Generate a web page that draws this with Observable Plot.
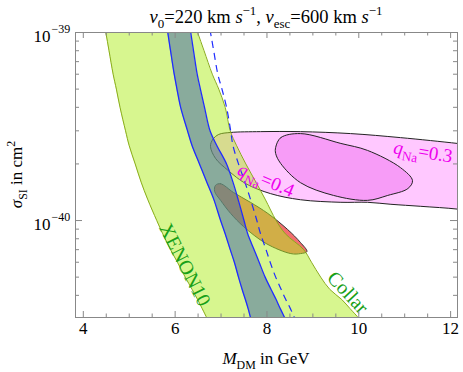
<!DOCTYPE html>
<html>
<head>
<meta charset="utf-8">
<script src="https://cdn.jsdelivr.net/npm/d3@7"></script>
<script src="https://cdn.jsdelivr.net/npm/@observablehq/plot@0.6"></script>
<style>
  body { margin: 0; background: #fff; }
  #chart svg { font-family: "Liberation Serif", "Times New Roman", serif; }
</style>
</head>
<body>
<div id="chart"></div>
<script>
// ---- data ----
// cross-section levels (cm^2) at which the band edges are sampled
const sigmaLevels = [1.2e-39, 1e-39, 8e-40, 6e-40, 5e-40, 4e-40, 3e-40, 2.5e-40, 2e-40, 1.6e-40, 1.3e-40,
  1e-40, 8.5e-41, 7e-41, 6e-41, 5e-41, 4.3e-41, 3.8e-41, 3.4e-41, 3e-41, 2.8e-41];
// XENON10 left edge and Collar right edge (GeV)
const xenonLeftX = [4.42, 4.49, 4.56, 4.65, 4.72, 4.80, 4.92, 5.00, 5.13, 5.26, 5.40,
  5.60, 5.73, 5.90, 6.05, 6.22, 6.37, 6.49, 6.59, 6.70, 6.76];
const collarRightX = [6.38, 6.49, 6.63, 6.81, 6.95, 7.09, 7.20, 7.34, 7.54, 7.76, 7.96,
  8.20, 8.40, 8.80, 8.97, 9.17, 9.37, 9.63, 9.81, 10.01, 10.09];
// blue band (solid lines)
const bandLeftX = [5.80, 5.84, 5.90, 5.98, 6.04, 6.12, 6.27, 6.37, 6.53, 6.69, 6.84,
  6.99, 7.09, 7.20, 7.29, 7.38, 7.46, 7.53, 7.59, 7.65, 7.69];
const bandRightX = [6.29, 6.34, 6.40, 6.48, 6.55, 6.64, 6.76, 6.91, 7.12, 7.26, 7.37,
  7.50, 7.58, 7.72, 7.83, 7.96, 8.09, 8.20, 8.29, 8.40, 8.46];
// dashed blue line
const dashedX = [6.71, 6.77, 6.84, 6.93, 7.02, 7.12, 7.21, 7.26, 7.38, 7.52, 7.64,
  7.78, 7.86, 7.98, 8.07, 8.19, 8.31, 8.41, 8.51, 8.61, 8.67];

// light pink region (outer contours of qNa = 0.4 and 0.3)
const pinkOuterX = [6.77, 6.82, 6.95, 7.21, 7.86, 8.73, 9.82, 10.91, 12.15, 12.66, 12.98, 12.66,
  12.15, 11.35, 10.70, 10.19, 9.61, 8.73, 8.08, 7.54, 7.15, 6.88];
const pinkOuterY = [2.48e-40, 2.70e-40, 2.87e-40, 2.94e-40, 2.97e-40, 2.97e-40, 2.90e-40, 2.76e-40, 2.57e-40, 2.48e-40, 1.73e-40, 1.10e-40,
  1.15e-40, 1.19e-40, 1.22e-40, 1.25e-40, 1.25e-40, 1.29e-40, 1.39e-40, 1.57e-40, 1.85e-40, 2.14e-40];
// magenta inner contour (qNa = 0.3)
const pinkInnerX = [8.19, 8.30, 8.73, 9.61, 10.19, 10.91, 11.17, 11.07, 10.63, 10.19, 9.45, 8.73, 8.30, 8.19];
const pinkInnerY = [2.45e-40, 2.76e-40, 2.90e-40, 2.57e-40, 2.36e-40, 1.91e-40, 1.63e-40, 1.48e-40, 1.36e-40, 1.28e-40, 1.36e-40, 1.59e-40, 2.01e-40, 2.27e-40];
// red inner contour (qNa = 0.4)
const redX = [6.88, 6.99, 7.27, 7.64, 8.02, 8.45, 8.73, 8.87, 8.73, 8.52, 7.98, 7.49, 7.21, 6.99, 6.86];
const redY = [1.54e-40, 1.57e-40, 1.41e-40, 1.25e-40, 1.09e-40, 8.96e-41, 7.64e-41, 6.84e-41, 6.67e-41, 6.67e-41, 7.55e-41, 9.29e-41, 1.09e-40, 1.28e-40, 1.43e-40];

// labels
const greenLabelText = ["XENON10", "Collar"];
const greenLabelX = [6.21, 9.76];
const greenLabelY = [5.83e-41, 4.14e-41];
const greenLabelAngle = [63, 47];
const qLabelValue = ["0.4", "0.3"];
const qLabelX = [7.99, 11.41];
const qLabelY = [1.63e-40, 2.30e-40];
const qLabelAngle = [23, 9];

// ticks
const xMajorTicks = [4, 6, 8, 10, 12];
const xMinorTicks = [4.5, 5, 5.5, 6.5, 7, 7.5, 8.5, 9, 9.5, 10.5, 11, 11.5];
const yMajorTicks = [1e-40, 1e-39];
const yTickExponents = ["\u221240", "\u221239"];
const yMinorTicks = [4e-41, 5e-41, 6e-41, 7e-41, 8e-41, 9e-41, 2e-40, 3e-40, 4e-40, 5e-40, 6e-40, 7e-40, 8e-40, 9e-40];

// ---- build tables ----
const bands = sigmaLevels.map((s, i) => ({s, xl: xenonLeftX[i], xr: collarRightX[i], bl: bandLeftX[i], br: bandRightX[i], dx: dashedX[i]}));
const pinkOuter = pinkOuterX.map((x, i) => ({x, y: pinkOuterY[i]}));
const pinkInner = pinkInnerX.map((x, i) => ({x, y: pinkInnerY[i]}));
const redEll = redX.map((x, i) => ({x, y: redY[i]}));
const greenLabels = greenLabelText.map((t, i) => ({t, x: greenLabelX[i], y: greenLabelY[i], a: greenLabelAngle[i]}));
const yTicks = yMajorTicks.map((v, i) => ({v, e: yTickExponents[i]}));

const W = 463, H = 372, mL = 75, mR = 6, mT = 32, mB = 55;
const innerW = W - mL - mR, innerH = H - mT - mB;
const tickCol = "#888";
const blue = "#1f2cff";
const serif = '"Liberation Serif", "Times New Roman", serif';

const plot = Plot.plot({
  width: W, height: H,
  marginLeft: mL, marginRight: mR, marginTop: mT, marginBottom: mB,
  x: {domain: [3.83, 12.15], axis: null},
  y: {type: "log", domain: [3.05e-41, 1e-39], axis: null},
  style: {fontFamily: serif, fontSize: "17px", background: "white", color: "black"},
  marks: [
    Plot.line(pinkOuter, {x: "x", y: "y", curve: "catmull-rom-closed", fill: "#ffc8ff", stroke: "#222", strokeWidth: 1, clip: true}),
    Plot.line(pinkInner, {x: "x", y: "y", curve: "catmull-rom-closed", fill: "#f79cf7", stroke: "#222", strokeWidth: 1, clip: true}),
    Plot.line(redEll, {x: "x", y: "y", curve: "catmull-rom-closed", fill: "#f26e6e", stroke: "#333", strokeWidth: 1, clip: true}),
    Plot.areaX(bands, {y: "s", x1: "xl", x2: "xr", fill: "#b0ee20", fillOpacity: 0.5, curve: "catmull-rom", clip: true}),
    Plot.lineX(bands, {x: "xl", y: "s", stroke: "#8aac1c", strokeWidth: 1, curve: "catmull-rom", clip: true}),
    Plot.lineX(bands, {x: "xr", y: "s", stroke: "#8aac1c", strokeWidth: 1, curve: "catmull-rom", clip: true}),
    Plot.areaX(bands, {y: "s", x1: "bl", x2: "br", fill: "#3c60aa", fillOpacity: 0.5, curve: "catmull-rom", clip: true}),
    Plot.lineX(bands, {x: "bl", y: "s", stroke: blue, strokeWidth: 1.3, curve: "catmull-rom", clip: true}),
    Plot.lineX(bands, {x: "br", y: "s", stroke: blue, strokeWidth: 1.3, curve: "catmull-rom", clip: true}),
    Plot.lineX(bands, {x: "dx", y: "s", stroke: blue, strokeWidth: 1.2, strokeDasharray: "7,5", strokeLinecap: "butt", curve: "catmull-rom", clip: true}),
    Plot.text(greenLabels, {x: "x", y: "y", text: "t", rotate: "a", fill: "#18a018", fontSize: 20, fontFamily: serif}),
    Plot.frame({stroke: tickCol}),
    // inward ticks on all four sides
    Plot.ruleX(xMajorTicks, {x: d => d, insetTop: innerH - 6, stroke: tickCol}),
    Plot.ruleX(xMajorTicks, {x: d => d, insetBottom: innerH - 6, stroke: tickCol}),
    Plot.ruleX(xMinorTicks, {x: d => d, insetTop: innerH - 3.5, stroke: tickCol}),
    Plot.ruleX(xMinorTicks, {x: d => d, insetBottom: innerH - 3.5, stroke: tickCol}),
    Plot.ruleY(yMajorTicks, {y: d => d, insetRight: innerW - 7, stroke: tickCol}),
    Plot.ruleY(yMajorTicks, {y: d => d, insetLeft: innerW - 7, stroke: tickCol}),
    Plot.ruleY(yMinorTicks, {y: d => d, insetRight: innerW - 4, stroke: tickCol}),
    Plot.ruleY(yMinorTicks, {y: d => d, insetLeft: innerW - 4, stroke: tickCol}),
    // tick labels
    Plot.text(xMajorTicks, {x: d => d, frameAnchor: "bottom", dy: 16, fontSize: 17, fill: "black", fontFamily: serif}),
    Plot.text(yTicks, {y: "v", frameAnchor: "left", dx: -25, dy: 4, textAnchor: "end", text: () => "10", fontSize: 17, fill: "black", fontFamily: serif}),
    Plot.text(yTicks, {y: "v", frameAnchor: "left", dx: -24, dy: -3, textAnchor: "start", text: "e", fontSize: 12, fill: "black", fontFamily: serif})
  ]
});

document.getElementById("chart").append(plot);

// ---- rich text (sub/superscripts, italics) ----
const svg = d3.select(plot);
function rich(parts, {x = 0, y = 0, size = 16, fill = "black", anchor = "middle", transform = null}) {
  const t = svg.append("text").attr("x", x).attr("y", y).attr("text-anchor", anchor)
    .attr("font-size", size).attr("fill", fill).attr("font-family", serif);
  if (transform) t.attr("transform", transform);
  let shift = 0;
  for (const p of parts) {
    const target = p.sub ? size * 0.28 : p.sup ? -size * 0.42 : 0;
    const ts = t.append("tspan").text(p.t).attr("dy", target - shift);
    shift = target;
    if (p.sub || p.sup) ts.attr("font-size", size * 0.7);
    if (p.i) ts.attr("font-style", "italic");
  }
  return t;
}

const cx = mL + innerW / 2;
// title
rich([{t: "v", i: 1}, {t: "0", sub: 1}, {t: "=220 km "}, {t: "s", i: 1}, {t: "\u22121", sup: 1}, {t: ", "},
      {t: "v", i: 1}, {t: "esc", sub: 1}, {t: "=600 km "}, {t: "s", i: 1}, {t: "\u22121", sup: 1}],
     {x: cx, y: 23, size: 18.5});
// x label
rich([{t: "M", i: 1}, {t: "DM", sub: 1}, {t: " in GeV"}], {x: cx, y: 364, size: 17});
// y label
rich([{t: "\u03C3", i: 1}, {t: "SI", sub: 1}, {t: " in cm"}, {t: "2", sup: 1}],
     {x: 0, y: 0, size: 17, transform: `translate(22,${mT + innerH / 2}) rotate(-90)`});

// qNa labels positioned with the plot's scales
const sx = plot.scale("x"), sy = plot.scale("y");
qLabelValue.forEach((v, i) => {
  const px = sx.apply(qLabelX[i]), py = sy.apply(qLabelY[i]);
  rich([{t: "q", i: 1}, {t: "Na", sub: 1}, {t: "=" + v}],
       {x: 0, y: 6, size: 19, fill: "#ee00ee", transform: `translate(${px},${py}) rotate(${qLabelAngle[i]})`});
});
</script>
</body>
</html>
